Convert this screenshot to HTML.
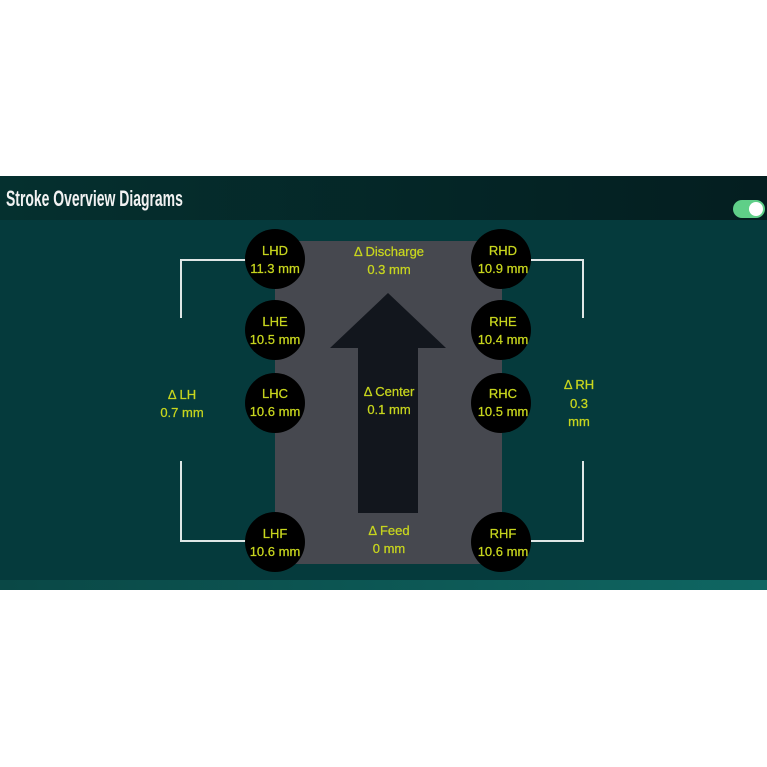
<!DOCTYPE html>
<html><head><meta charset="utf-8"><style>
html,body{margin:0;padding:0;background:#fff;width:767px;height:767px;overflow:hidden}
</style></head><body>
<svg width="767" height="767" viewBox="0 0 767 767" xmlns="http://www.w3.org/2000/svg">
<defs>
<linearGradient id="hd" x1="0" y1="0" x2="1" y2="0"><stop offset="0" stop-color="#05302f"/><stop offset="1" stop-color="#041e20"/></linearGradient>
<linearGradient id="bt" x1="0" y1="0" x2="1" y2="0"><stop offset="0" stop-color="#0a4846"/><stop offset="1" stop-color="#0f6662"/></linearGradient>
</defs>
<rect x="0" y="176" width="767" height="414" fill="#053a3c"/>
<rect x="0" y="176" width="767" height="44" fill="url(#hd)"/>
<rect x="0" y="580" width="767" height="10" fill="url(#bt)"/>
<text x="0" y="206" font-family="Liberation Sans, sans-serif" font-size="22" font-weight="bold" fill="#f2f2f2" transform="translate(6 0) scale(0.635 1)">Stroke Overview Diagrams</text>
<rect x="733" y="200" width="32" height="18" rx="9" fill="#5fcf88"/>
<circle cx="756" cy="209" r="7" fill="#fff"/>
<rect x="275" y="241" width="227" height="323" fill="#46484f"/>
<polygon points="388,293 446,348 418,348 418,513 358,513 358,348 330,348" fill="#12161d"/>
<g fill="none" stroke="#dfe6e6" stroke-width="2">
<polyline points="246,260 181,260 181,318"/>
<polyline points="181,461 181,541 246,541"/>
<polyline points="531,260 583,260 583,318"/>
<polyline points="583,461 583,541 531,541"/>
</g>
<g fill="#000">
<circle cx="275" cy="259" r="30"/><circle cx="275" cy="330" r="30"/><circle cx="275" cy="403" r="30"/><circle cx="275" cy="542" r="30"/>
<circle cx="501" cy="259" r="30"/><circle cx="501" cy="330" r="30"/><circle cx="501" cy="403" r="30"/><circle cx="501" cy="542" r="30"/>
</g>
<g font-family="Liberation Sans, sans-serif" font-size="13" fill="#c8d61e" text-anchor="middle" stroke="#c8d61e" stroke-width="0.25">
<text x="275" y="255">LHD</text><text x="275" y="273">11.3 mm</text>
<text x="275" y="326">LHE</text><text x="275" y="344">10.5 mm</text>
<text x="275" y="398">LHC</text><text x="275" y="416">10.6 mm</text>
<text x="275" y="538">LHF</text><text x="275" y="556">10.6 mm</text>
<text x="503" y="255">RHD</text><text x="503" y="273">10.9 mm</text>
<text x="503" y="326">RHE</text><text x="503" y="344">10.4 mm</text>
<text x="503" y="398">RHC</text><text x="503" y="416">10.5 mm</text>
<text x="503" y="538">RHF</text><text x="503" y="556">10.6 mm</text>
<text x="389" y="256">Δ Discharge</text><text x="389" y="274">0.3 mm</text>
<text x="389" y="396">Δ Center</text><text x="389" y="414">0.1 mm</text>
<text x="389" y="535">Δ Feed</text><text x="389" y="553">0 mm</text>
<text x="182" y="399">Δ LH</text><text x="182" y="417">0.7 mm</text>
<text x="579" y="389">Δ RH</text><text x="579" y="408">0.3</text><text x="579" y="426">mm</text>
</g>
</svg>
</body></html>
